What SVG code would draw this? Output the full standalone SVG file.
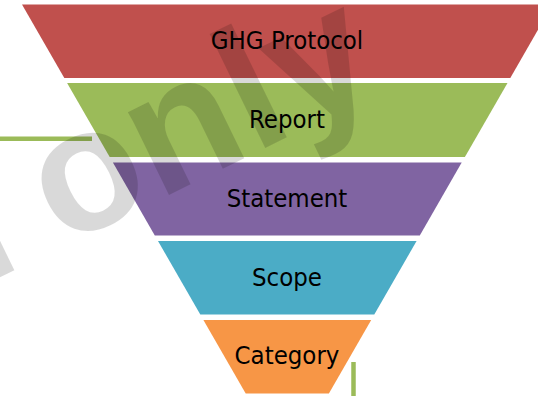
<svg xmlns="http://www.w3.org/2000/svg" width="538" height="396" viewBox="0 0 538 396">
<style>
.lbl{font-family:"DejaVu Sans Condensed","DejaVu Sans",sans-serif;font-stretch:condensed;font-size:25.5px;fill:#000;text-anchor:middle}
.wm{font-family:"Liberation Sans",Arial,sans-serif;font-weight:bold;font-size:175px;fill:#000;fill-opacity:0.15}
.wmf{fill:#000;fill-opacity:0.15}
.ln{stroke:#9bbb59;stroke-width:4.5;fill:none}
</style>
<rect width="538" height="396" fill="#fff"/>
<g id="ghg-protocol">
<polygon points="22,4.5 552.6,4.5 510.3,78 64.3,78" fill="#c0504d"/>
<text class="lbl" x="287" y="49.3">GHG Protocol</text>
</g>
<g id="report">
<polygon points="67.1,83 507.5,83 464.9,157 109.7,157" fill="#9bbb59"/>
<text class="lbl" x="287" y="128.3">Report</text>
</g>
<g id="statement">
<polygon points="112.9,162.5 461.7,162.5 419.8,235.5 154.8,235.5" fill="#8064a2"/>
<text class="lbl" x="287" y="206.7">Statement</text>
</g>
<g id="scope">
<polygon points="158,241 416.6,241 374.3,314.5 200.3,314.5" fill="#4bacc6"/>
<text class="lbl" x="287" y="285.7">Scope</text>
</g>
<g id="category">
<polygon points="203.4,320 371.2,320 328.9,393.5 245.7,393.5" fill="#f79646"/>
<text class="lbl" x="287" y="364.3">Category</text>
</g>
<g id="connectors">
<line class="ln" x1="0" y1="138.8" x2="92" y2="138.8"/>
<line class="ln" x1="353.5" y1="362" x2="353.5" y2="396"/>
</g>
<g id="watermark" transform="translate(62,247) rotate(-26)">
<rect class="wmf" x="-88" y="-130" width="35" height="130"/>
<text class="wm" x="0" y="0">only</text>
</g>
</svg>
